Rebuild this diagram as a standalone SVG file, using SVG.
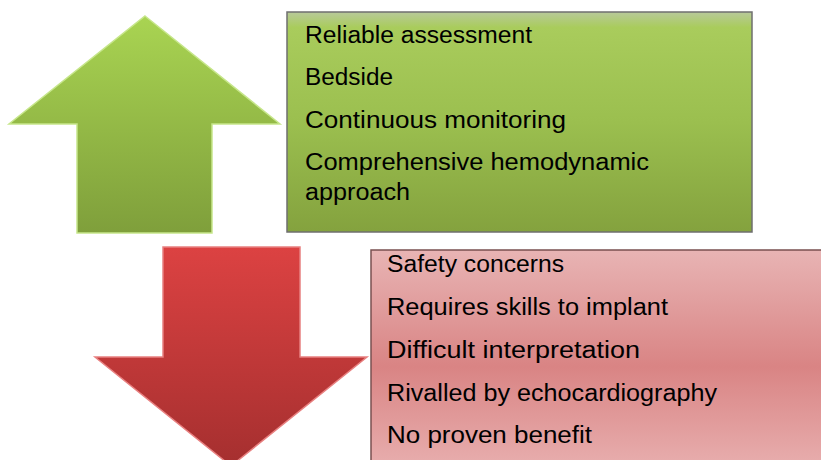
<svg xmlns="http://www.w3.org/2000/svg" width="821" height="460" viewBox="0 0 821 460">
<defs>
<linearGradient id="gA" x1="0" y1="0" x2="0" y2="1"><stop offset="0" stop-color="#a9d452"/><stop offset="1" stop-color="#7f9f3b"/></linearGradient>
<linearGradient id="gB" x1="0" y1="0" x2="0" y2="1"><stop offset="0" stop-color="#b8c99a"/><stop offset="0.07" stop-color="#a9cc5c"/><stop offset="0.5" stop-color="#9bbf4f"/><stop offset="1" stop-color="#84a23e"/></linearGradient>
<linearGradient id="rA" x1="0" y1="0" x2="0" y2="1"><stop offset="0" stop-color="#dc4242"/><stop offset="1" stop-color="#a52f2f"/></linearGradient>
<linearGradient id="rB" x1="0" y1="0" x2="0" y2="1"><stop offset="0" stop-color="#e8b4b4"/><stop offset="0.55" stop-color="#d98484"/><stop offset="1" stop-color="#e7acac"/></linearGradient>
</defs>
<style>
text{font-family:"Liberation Sans",Arial,sans-serif;font-size:23.5px;fill:#000}
</style>
<g id="up-arrow"><polygon points="145,16 280,124 212,124 212,233 77,233 77,124 9,124" fill="url(#gA)" stroke="#c6e68a" stroke-width="1.5"/></g>
<g id="pros">
<rect x="287" y="12" width="465" height="220" fill="url(#gB)" stroke="#6f6f6f" stroke-width="1.5"/>
<text x="305" y="43" textLength="227" lengthAdjust="spacingAndGlyphs">Reliable assessment</text>
<text x="305" y="85" textLength="88" lengthAdjust="spacingAndGlyphs">Bedside</text>
<text x="305" y="128" textLength="261" lengthAdjust="spacingAndGlyphs">Continuous monitoring</text>
<text x="305" y="170" textLength="344" lengthAdjust="spacingAndGlyphs">Comprehensive hemodynamic</text>
<text x="305" y="200" textLength="105" lengthAdjust="spacingAndGlyphs">approach</text>
</g>
<g id="down-arrow"><polygon points="163,247 300,247 300,357 367,357 231,466 95,357 163,357" fill="url(#rA)" stroke="#e88080" stroke-width="1.5"/></g>
<g id="cons">
<rect x="371" y="250" width="452" height="212" fill="url(#rB)" stroke="#7a5050" stroke-width="1.5"/>
<text x="387" y="272" textLength="177" lengthAdjust="spacingAndGlyphs">Safety concerns</text>
<text x="387" y="315" textLength="281" lengthAdjust="spacingAndGlyphs">Requires skills to implant</text>
<text x="387" y="358" textLength="253" lengthAdjust="spacingAndGlyphs">Difficult interpretation</text>
<text x="387" y="401" textLength="330" lengthAdjust="spacingAndGlyphs">Rivalled by echocardiography</text>
<text x="387" y="443" textLength="205" lengthAdjust="spacingAndGlyphs">No proven benefit</text>
</g>
<g id="connectors"/>
</svg>
